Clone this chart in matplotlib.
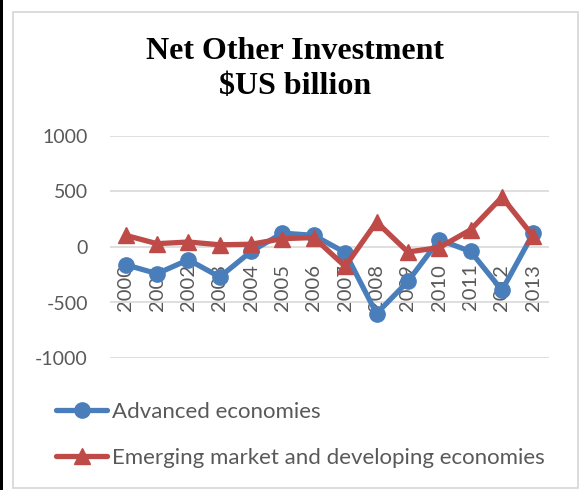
import numpy as np
import matplotlib.pyplot as plt
from matplotlib.patches import Rectangle

# data
years = ['2000', '2001', '2002', '2003', '2004', '2005', '2006',
         '2007', '2008', '2009', '2010', '2011', '2012', '2013']
advanced = [-160, -240, -115, -270, -40, 125, 105,
            -50, -600, -310, 65, -40, -390, 125]
emerging = [105, 30, 45, 20, 25, 75, 85,
            -175, 225, -45, -5, 155, 450, 95]
title_lines = ['Net Other Investment', '$US billion']

blue = '#4A7EBB'
red = '#BE4B48'
grey_txt = '#595959'

plt.rcParams['font.family'] = ['Lato', 'DejaVu Sans']
plt.rcParams['axes.unicode_minus'] = False

fig = plt.figure(figsize=(5.84, 4.9), dpi=100)
W, H = 584, 490

# outer chart border and the dark strip on the left
fig.patches.append(Rectangle((13 / W, 2 / H), 565 / W, 476 / H, transform=fig.transFigure,
                             fill=False, edgecolor='#D9D9D9', linewidth=1.3))
fig.patches.append(Rectangle((0, 0), 3 / W, 1, transform=fig.transFigure,
                             facecolor='black', edgecolor='none'))

ax = fig.add_axes([110 / W, 1 - 358 / H, 439 / W, 222 / H])
x = np.arange(len(years))

ax.plot(x, advanced, color=blue, linewidth=3.8, marker='o', markersize=11,
        label='Advanced economies', solid_capstyle='round', zorder=3)
ax.plot(x, emerging, color=red, linewidth=3.8, marker='^', markersize=12,
        label='Emerging market and developing economies', solid_capstyle='round', zorder=4)

ax.set_xlim(-0.5, len(years) - 0.5)
ax.set_ylim(-1000, 1000)
ax.set_yticks([-1000, -500, 0, 500, 1000])
ax.grid(axis='y', color='#D9D9D9', linewidth=1.2)
ax.set_axisbelow(True)
for s in ax.spines.values():
    s.set_visible(False)

# category labels sit on the zero line
ax.spines['bottom'].set_position(('data', 0))
ax.set_xticks(x)
ax.set_xticklabels(years, rotation=90, fontsize=14.5, color=grey_txt)
ax.tick_params(axis='x', length=0, pad=12)
ax.tick_params(axis='y', length=0, pad=16, labelsize=14, labelcolor=grey_txt)

# two-line title, placed by baseline
for line, base in zip(title_lines, [59, 94]):
    fig.text(295 / W, 1 - base / H, line, ha='center', va='baseline',
             fontsize=23, fontweight='bold', family='Liberation Serif')

leg = fig.legend(loc='upper left', bbox_to_anchor=(36 / W, 1 - 382 / H), frameon=False,
                 fontsize=16, handlelength=2.3, handletextpad=0.2, labelspacing=1.15)
for t in leg.get_texts():
    t.set_color(grey_txt)

fig.savefig('out.png', dpi=100)
